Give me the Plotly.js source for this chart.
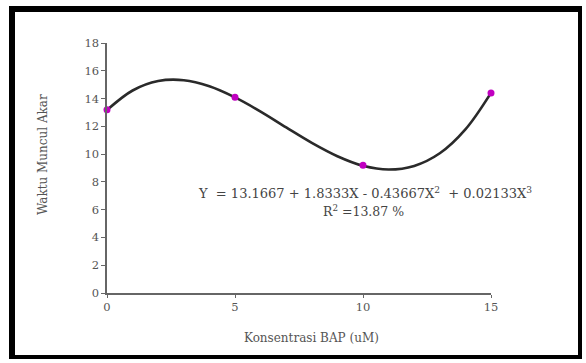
<!DOCTYPE html>
<html>
<head>
<meta charset="utf-8">
<script src="https://cdn.plot.ly/plotly-3.0.1.min.js"></script>
<style>
html,body{margin:0;padding:0;background:#fff;}
#wrap{position:relative;width:586px;height:363px;overflow:hidden;}
#frame{position:absolute;left:9px;top:6px;width:573px;height:353px;border-left:6px solid #000;border-top:6px solid #000;border-right:4px solid #000;border-bottom:4px solid #000;box-sizing:border-box;pointer-events:none;z-index:5;}
#chart{position:absolute;left:0;top:0;width:586px;height:363px;}
</style>
</head>
<body>
<div id="wrap">
<div id="chart"></div>
<div id="frame"></div>
</div>
<script>
// Observed data points
var concX = [0, 5, 10, 15];
var waktuY = [13.2, 14.1, 9.2, 14.4];
// Fitted curve
var curveX = [0, 1, 2, 3, 4, 5, 6, 7, 8, 9, 10, 11, 12, 13, 14, 15];
var curveY = [13.17, 14.58, 15.26, 15.32, 14.88, 14.08, 13.06, 11.92, 10.81, 9.85, 9.16, 8.89, 9.15, 10.06, 11.78, 14.41];
var yTicks = [0, 2, 4, 6, 8, 10, 12, 14, 16, 18];
var xTicks = [0, 5, 10, 15];

var fnt = "DejaVu Serif, Liberation Serif, serif";
var txtCol = "#555";

var traces = [
  {x: curveX, y: curveY, type: "scatter", mode: "lines", line: {color: "#2a2a2a", width: 2.6, shape: "spline"}, hoverinfo: "skip", cliponaxis: false},
  {x: concX, y: waktuY, type: "scatter", mode: "markers", marker: {color: "#c000c0", size: 7}, cliponaxis: false}
];

var layout = {
  width: 586, height: 363,
  margin: {l: 107, r: 95, t: 43, b: 70, pad: 0},
  paper_bgcolor: "#fff", plot_bgcolor: "#fff",
  showlegend: false,
  font: {family: fnt, size: 11, color: txtCol},
  xaxis: {range: [0, 15], tickvals: xTicks, ticktext: xTicks.map(String), showgrid: false, zeroline: false,
          showline: true, linecolor: "#666", linewidth: 1.6, ticks: "outside", ticklen: 3, tickcolor: "#666",
          tickfont: {family: fnt, size: 11.5, color: txtCol}},
  yaxis: {range: [0, 18], tickvals: yTicks, ticktext: yTicks.map(String), showgrid: false, zeroline: false,
          showline: true, linecolor: "#666", linewidth: 1.6, ticks: "outside", ticklen: 4, tickcolor: "#666",
          tickfont: {family: fnt, size: 11.5, color: txtCol}},
  annotations: [
    {xref: "paper", yref: "paper", x: (365 - 107) / 384, y: (293 - 193) / 250, xanchor: "center", yanchor: "middle", showarrow: false,
     text: "Y  = 13.1667 + 1.8333X - 0.43667X<sup>2</sup>  + 0.02133X<sup>3</sup>", font: {family: fnt, size: 13, color: "#444"}},
    {xref: "paper", yref: "paper", x: (363 - 107) / 384, y: (293 - 211) / 250, xanchor: "center", yanchor: "middle", showarrow: false,
     text: "R<sup>2</sup> =13.87 %", font: {family: fnt, size: 12.5, color: "#444"}},
    {xref: "paper", yref: "paper", x: (311 - 107) / 384, y: (293 - 338) / 250, xanchor: "center", yanchor: "middle", showarrow: false,
     text: "Konsentrasi BAP (uM)", font: {family: fnt, size: 12, color: txtCol}},
    {xref: "paper", yref: "paper", x: (43 - 107) / 384, y: (293 - 155) / 250, xanchor: "center", yanchor: "middle", showarrow: false, textangle: -90,
     text: "Waktu Muncul Akar", font: {family: fnt, size: 12, color: txtCol}}
  ]
};

Plotly.newPlot("chart", traces, layout, {displayModeBar: false, staticPlot: true});
</script>
</body>
</html>
